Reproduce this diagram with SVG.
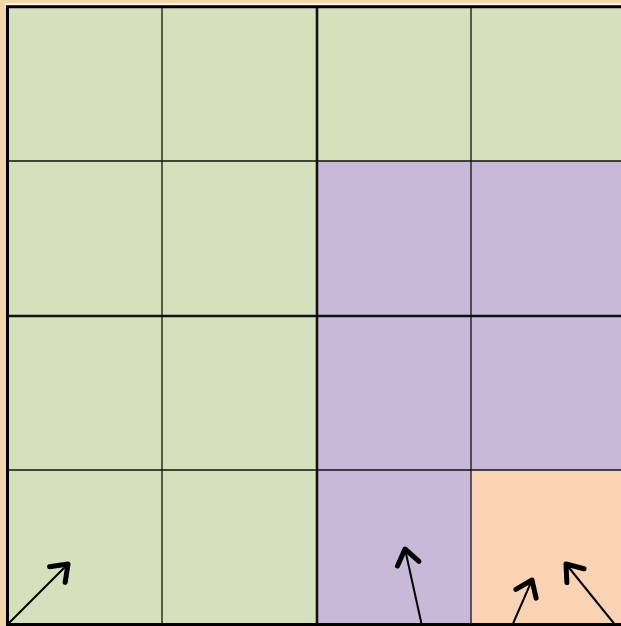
<svg xmlns="http://www.w3.org/2000/svg" width="621" height="626" viewBox="0 0 621 626">
<style>
.g{fill:#d7e0bd}.p{fill:#c9b9d9}.o{fill:#fad3b4}
.thin{stroke:#111;stroke-width:1.3;fill:none}
.thick{stroke:#111;stroke-width:2.6;fill:none}
.arr{stroke:#000;stroke-width:2;fill:none;marker-end:url(#ah)}
</style>
<defs>
<marker id="ah" markerUnits="userSpaceOnUse" markerWidth="40" markerHeight="40" viewBox="-20 -20 40 40" refX="0" refY="0" orient="auto" overflow="visible">
<path d="M-15,-11 L0,0 L-15,11" fill="none" stroke="#000" stroke-width="5" stroke-linecap="round" stroke-linejoin="round"/>
</marker>
</defs>
<rect x="0" y="0" width="621" height="626" fill="#efd6ab"/>
<rect x="5" y="3" width="616" height="2" fill="#fbf3e3"/>
<g id="cells">
<g id="r0"><rect class="g" x="7" y="7" width="155" height="154"/><rect class="g" x="162" y="7" width="155" height="154"/><rect class="g" x="317" y="7" width="154" height="154"/><rect class="g" x="471" y="7" width="155" height="154"/></g>
<g id="r1"><rect class="g" x="7" y="161" width="155" height="155"/><rect class="g" x="162" y="161" width="155" height="155"/><rect class="p" x="317" y="161" width="154" height="155"/><rect class="p" x="471" y="161" width="155" height="155"/></g>
<g id="r2"><rect class="g" x="7" y="316" width="155" height="154"/><rect class="g" x="162" y="316" width="155" height="154"/><rect class="p" x="317" y="316" width="154" height="154"/><rect class="p" x="471" y="316" width="155" height="154"/></g>
<g id="r3"><rect class="g" x="7" y="470" width="155" height="156"/><rect class="g" x="162" y="470" width="155" height="156"/><rect class="p" x="317" y="470" width="154" height="156"/><rect class="o" x="471" y="470" width="155" height="156"/></g>
</g>
<g id="gridlines">
<line class="thin" x1="162" y1="7" x2="162" y2="625"/>
<line class="thin" x1="471" y1="7" x2="471" y2="625"/>
<line class="thin" x1="7" y1="161" x2="621" y2="161"/>
<line class="thin" x1="7" y1="470" x2="621" y2="470"/>
<line class="thick" x1="317" y1="7" x2="317" y2="625"/>
<line class="thick" x1="7" y1="316" x2="621" y2="316"/>
<path d="M7.5,626 V6.8 H621" stroke="#000" stroke-width="3" fill="none"/>
<line x1="7" y1="624.5" x2="621" y2="624.5" stroke="#000" stroke-width="3"/>
</g>
<g id="connectors">
<line class="arr" x1="8" y1="624" x2="68" y2="564"/>
<line class="arr" x1="422" y1="626" x2="405" y2="549"/>
<line class="arr" x1="512" y1="626" x2="532" y2="580"/>
<line class="arr" x1="616" y1="626" x2="566" y2="564"/>
</g>
</svg>
